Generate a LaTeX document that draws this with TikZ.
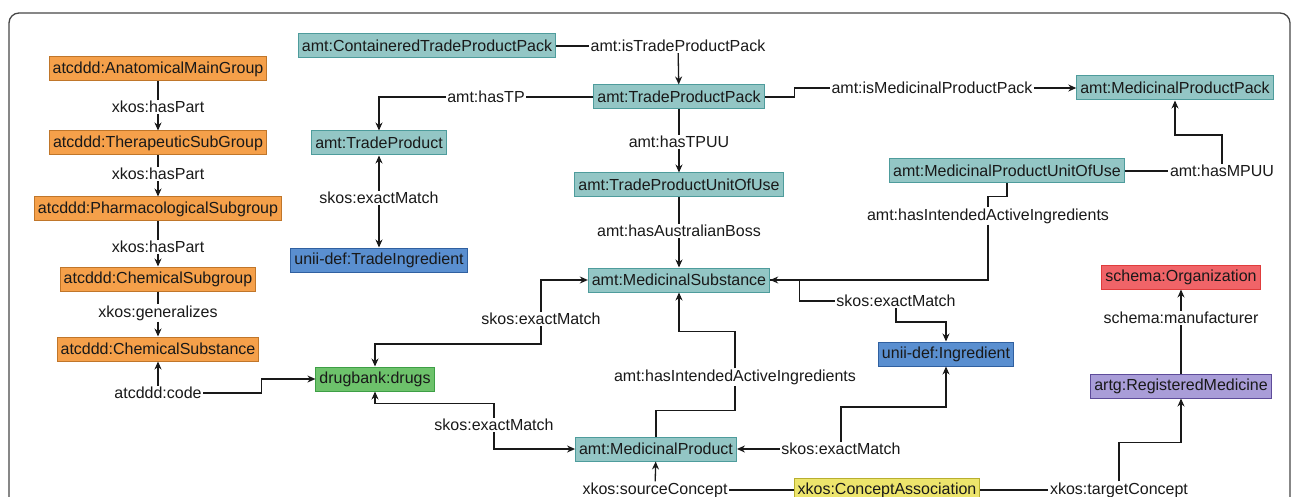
\documentclass[tikz,border=0pt]{standalone}
\usepackage{fontspec}
\setmainfont{Liberation Sans}
\usepackage{xcolor}
\usepackage{tikz}
\usetikzlibrary{arrows.meta}
\definecolor{atcorange}{RGB}{245, 160, 74}
\definecolor{atcorangedk}{RGB}{192, 118, 42}
\definecolor{amtteal}{RGB}{147, 198, 197}
\definecolor{amttealdk}{RGB}{78, 156, 156}
\definecolor{uniiblue}{RGB}{90, 143, 208}
\definecolor{uniibluedk}{RGB}{48, 96, 160}
\definecolor{dbgreen}{RGB}{109, 194, 107}
\definecolor{dbgreendk}{RGB}{61, 159, 69}
\definecolor{orgred}{RGB}{240, 100, 104}
\definecolor{orgreddk}{RGB}{224, 60, 60}
\definecolor{artgpurple}{RGB}{169, 157, 216}
\definecolor{artgpurpledk}{RGB}{94, 76, 154}
\definecolor{xkosyellow}{RGB}{237, 229, 108}
\definecolor{xkosyellowdk}{RGB}{184, 175, 46}
\definecolor{framegray}{RGB}{70, 70, 70}

\begin{document}
\begin{tikzpicture}[x=1pt, y=-1pt, font=\fontsize{16}{19}\selectfont,
  box/.style={draw, line width=1pt, minimum height=24pt, inner xsep=3.5pt, inner ysep=2pt, text=black!90},
  atc/.style={box, fill=atcorange, draw=atcorangedk},
  amt/.style={box, fill=amtteal, draw=amttealdk},
  unii/.style={box, fill=uniiblue, draw=uniibluedk},
  db/.style={box, fill=dbgreen, draw=dbgreendk},
  org/.style={box, fill=orgred, draw=orgreddk},
  artg/.style={box, fill=artgpurple, draw=artgpurpledk},
  xkos/.style={box, fill=xkosyellow, draw=xkosyellowdk},
  rel/.style={inner xsep=1.5pt, inner ysep=1pt, text=black!90},
  link/.style={line width=1.3pt, draw=black!90},
  >={Stealth[length=8pt, width=7pt]}]
\clip (0,0) rectangle (1293,497);
\draw[framegray, line width=1.3pt, rounded corners=10pt] (9,13) rectangle (1290,540);

% ATC hierarchy
\node[atc] (amg) at (158,69) {atcddd:AnatomicalMainGroup};
\node[rel] (hp1) at (158,107) {xkos:hasPart};
\node[atc] (tsg) at (158,143) {atcddd:TherapeuticSubGroup};
\node[rel] (hp2) at (158,174) {xkos:hasPart};
\node[atc] (psg) at (158,209) {atcddd:PharmacologicalSubgroup};
\node[rel] (hp3) at (158,247) {xkos:hasPart};
\node[atc] (csg) at (158,279) {atcddd:ChemicalSubgroup};
\node[rel] (gen) at (158,313) {xkos:generalizes};
\node[atc] (cs) at (158,349) {atcddd:ChemicalSubstance};
\node[rel] (code) at (158,393) {atcddd:code};
\draw[link] (amg) -- (hp1);
\draw[link, ->] (hp1) -- (tsg);
\draw[link] (tsg) -- (hp2);
\draw[link, ->] (hp2) -- (psg);
\draw[link] (psg) -- (hp3);
\draw[link, ->] (hp3) -- (csg);
\draw[link] (csg) -- (gen);
\draw[link, ->] (gen) -- (cs);
\draw[link, ->] (code) -- (cs);

% DrugBank
\node[db] (drugs) at (375,379) {drugbank:drugs};
\draw[link, ->] (code.east) -- ++(58,0) |- (drugs.west);

% AMT trade side
\node[amt] (ctpp) at (427,46) {amt:ContaineredTradeProductPack};
\node[rel] (istpp) at (678,46) {amt:isTradeProductPack};
\node[amt] (tpp) at (679,97) {amt:TradeProductPack};
\node[rel] (hastp) at (486,97) {amt:hasTP};
\node[amt] (tp) at (379,143) {amt:TradeProduct};
\node[rel] (em1) at (379,198) {skos:exactMatch};
\node[unii] (ti) at (379,260) {unii-def:TradeIngredient};
\node[rel] (hastpuu) at (679,142) {amt:hasTPUU};
\node[amt] (tpuu) at (679,185) {amt:TradeProductUnitOfUse};
\node[rel] (boss) at (679,231) {amt:hasAustralianBoss};
\node[amt] (ms) at (679,280) {amt:MedicinalSubstance};
\draw[link] (ctpp) -- (istpp);
\draw[link, ->] (istpp) -- (tpp);
\draw[link] (tpp) -- (hastp);
\draw[link, ->] (hastp.west) -| (tp.north);
\draw[link, <-] (tp) -- (em1);
\draw[link, ->] (em1) -- (ti);
\draw[link] (tpp) -- (hastpuu);
\draw[link, ->] (hastpuu) -- (tpuu);
\draw[link] (tpuu) -- (boss);
\draw[link, ->] (boss) -- (ms);

% AMT medicinal side
\node[rel] (ismpp) at (932,88) {amt:isMedicinalProductPack};
\node[amt] (mpp) at (1175,88) {amt:MedicinalProductPack};
\node[amt] (mpuu) at (1007,171) {amt:MedicinalProductUnitOfUse};
\node[rel] (hasmpuu) at (1222,171) {amt:hasMPUU};
\node[rel] (hiai2) at (988,216) {amt:hasIntendedActiveIngredients};
\draw[link] (tpp.east) -- ++(30,0) |- (ismpp.west);
\draw[link, ->] (ismpp) -- (mpp);
\draw[link] (mpuu) -- (hasmpuu);
\draw[link, ->] (hasmpuu.north) -- ++(0,-29) -| (mpp.south);
\draw[link] (mpuu.south) -- ++(0,13) -| (hiai2.north);
\draw[link, ->] (hiai2.south) |- (ms.east);

% exact matches round the substance
\node[rel] (em2) at (541,319) {skos:exactMatch};
\node[rel] (em5) at (896,301) {skos:exactMatch};
\node[unii] (ing) at (946,354) {unii-def:Ingredient};
\draw[link, <-] (ms.west) -| (em2.north);
\draw[link, ->] (em2.south) -- ++(0,18) -| (drugs.north);
\draw[link] (ms.east) -- ++(29,0) |- (em5.west);
\draw[link, ->] (em5.south) -- ++(0,14) -| (ing.north);

% medicinal product
\node[amt] (mp) at (656,449) {amt:MedicinalProduct};
\node[rel] (em3) at (494,425) {skos:exactMatch};
\node[rel] (hiai1) at (735,377) {amt:hasIntendedActiveIngredients};
\node[rel] (em4) at (841,449) {skos:exactMatch};
\draw[link, <-] (drugs.south) -- ++(0,12) -| (em3.north);
\draw[link, ->] (em3.south) |- (mp.west);
\draw[link] (mp.north) -- ++(0,-26) -| (hiai1.south);
\draw[link, ->] (hiai1.north) -- ++(0,-37) -| (ms.south);
\draw[link, ->] (em4) -- (mp);
\draw[link, ->] (em4.north) -- ++(0,-35) -| (ing.south);

% concept association and registration
\node[rel] (src) at (655,490) {xkos:sourceConcept};
\node[xkos] (ca) at (887,490) {xkos:ConceptAssociation};
\node[rel] (tgt) at (1119,490) {xkos:targetConcept};
\node[artg] (rm) at (1181,386) {artg:RegisteredMedicine};
\node[rel] (manu) at (1181,318) {schema:manufacturer};
\node[org] (orgn) at (1181,277) {schema:Organization};
\draw[link, ->] (src) -- (mp);
\draw[link] (src) -- (ca);
\draw[link] (ca) -- (tgt);
\draw[link, ->] (tgt.north) -- ++(0,-39) -| (rm.south);
\draw[link] (rm) -- (manu);
\draw[link, ->] (manu) -- (orgn);
\end{tikzpicture}
\end{document}
